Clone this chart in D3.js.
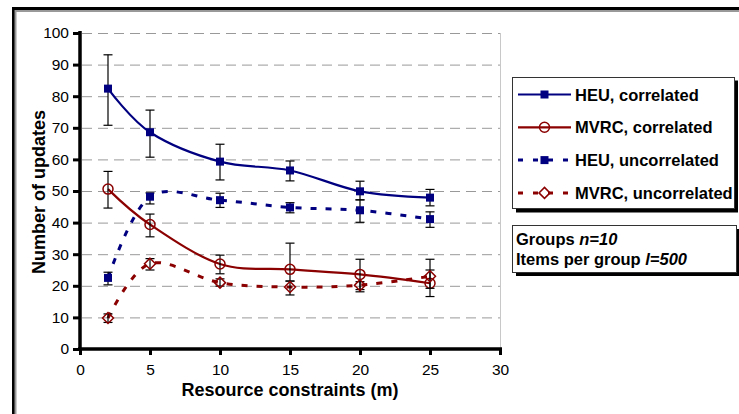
<!DOCTYPE html>
<html><head><meta charset="utf-8">
<script src="https://cdn.jsdelivr.net/npm/d3@7"></script>
<style>body{margin:0;background:#fff}svg{display:block}text{font-family:"Liberation Sans",Arial,sans-serif}</style>
</head><body>
<script>
const xValues = [2, 5, 10, 15, 20, 25];
const xTicks = [0, 5, 10, 15, 20, 25, 30];
const yTicks = [0, 10, 20, 30, 40, 50, 60, 70, 80, 90, 100];

const heuCorr = [82.4, 68.6, 59.3, 56.5, 49.9, 47.9];
const heuCorrLo = [70.8, 60.7, 53.5, 53.2, 47.2, 45.3];
const heuCorrHi = [93.1, 75.6, 64.8, 59.5, 53.1, 50.5];

const mvrcCorr = [50.6, 39.4, 26.9, 25.2, 23.6, 20.8];
const mvrcCorrLo = [44.6, 35.5, 23.8, 21.5, 18.1, 16.6];
const mvrcCorrHi = [56.2, 42.7, 29.7, 33.5, 28.4, 28.4];

const heuUnc = [22.5, 48.2, 47.1, 44.8, 43.9, 41.1];
const heuUncLo = [20.3, 45.9, 44.8, 43.1, 40.1, 38.5];
const heuUncHi = [24.3, 49.4, 49.3, 46.3, 47.2, 43.4];

const mvrcUnc = [9.8, 27.0, 21.0, 19.6, 20.2, 23.0];
const mvrcUncLo = [8.4, 25.0, 19.9, 17.1, 18.8, 19.2];
const mvrcUncHi = [11.1, 28.6, 22.2, 21.5, 21.3, 25.0];

const seriesNames = ["HEU, correlated", "MVRC, correlated", "HEU, uncorrelated", "MVRC, uncorrelated"];

const NAVY = "#000080", DRED = "#8b0000";
const series = [
  {name: seriesNames[0], v: heuCorr, lo: heuCorrLo, hi: heuCorrHi, color: NAVY, dash: null, marker: "square"},
  {name: seriesNames[1], v: mvrcCorr, lo: mvrcCorrLo, hi: mvrcCorrHi, color: DRED, dash: null, marker: "circle"},
  {name: seriesNames[2], v: heuUnc, lo: heuUncLo, hi: heuUncHi, color: NAVY, dash: "6,9", marker: "square"},
  {name: seriesNames[3], v: mvrcUnc, lo: mvrcUncLo, hi: mvrcUncHi, color: DRED, dash: "6,9", marker: "diamond"}
];

const W = 739, H = 414;
const svg = d3.select("body").append("svg").attr("width", W).attr("height", H);
svg.append("rect").attr("width", W).attr("height", H).attr("fill", "#fff");

// outer frame
svg.append("rect").attr("x", 13.5).attr("y", 8.5).attr("width", W).attr("height", H)
  .attr("fill", "none").attr("stroke", "#000").attr("stroke-width", 3);
svg.append("path").attr("d", `M15.5,${H} V11 H${W}`).attr("fill", "none").attr("stroke", "#999").attr("stroke-width", 2);

const x = d3.scaleLinear().domain([0, 30]).range([80, 500]);
const y = d3.scaleLinear().domain([0, 100]).range([349, 33]);

// gridlines
svg.append("g").selectAll("line").data(yTicks.filter(d => d > 0)).join("line")
  .attr("x1", x(0) + 2).attr("x2", x(30)).attr("y1", d => y(d) + 0.5).attr("y2", d => y(d) + 0.5)
  .attr("stroke", "#999").attr("stroke-width", 1).attr("stroke-dasharray", "10,6");
// plot area right border
svg.append("line").attr("x1", x(30) + 0.5).attr("x2", x(30) + 0.5).attr("y1", y(100)).attr("y2", y(0))
  .attr("stroke", "#c8c8c8").attr("stroke-width", 1);

// axes
const yAxis = svg.append("g").attr("transform", `translate(${x(0)},0)`)
  .call(d3.axisLeft(y).tickValues(yTicks).tickSize(7).tickSizeOuter(0).tickPadding(4));
const xAxis = svg.append("g").attr("transform", `translate(0,${y(0)})`)
  .call(d3.axisBottom(x).tickValues(xTicks).tickSize(6).tickSizeOuter(0).tickPadding(9));
[yAxis, xAxis].forEach(a => {
  a.attr("font-size", null).attr("font-family", null);
  a.select(".domain").attr("stroke", "#000").attr("stroke-width", 3.5);
  a.selectAll(".tick line").attr("stroke", "#000").attr("stroke-width", 3);
  a.selectAll(".tick text").attr("font-size", 15.5).attr("fill", "#000")
    .attr("font-family", '"Liberation Sans",Arial,sans-serif');
});
yAxis.select(".domain").attr("d", `M0,${y(0) + 2}V${y(100) - 2}`);
xAxis.select(".domain").attr("d", `M${x(0) - 2},0H${x(30) + 2}`);

// axis titles
svg.append("text").attr("x", 290).attr("y", 396).attr("text-anchor", "middle")
  .attr("font-size", 18).attr("font-weight", "bold").text("Resource constraints (m)");
svg.append("text").attr("transform", "translate(45,192) rotate(-90)").attr("text-anchor", "middle")
  .attr("font-size", 18).attr("font-weight", "bold").text("Number of updates");

function drawMarker(g, type, color, cx, cy) {
  if (type === "square") {
    g.append("rect").attr("x", cx - 4).attr("y", cy - 4).attr("width", 8).attr("height", 8).attr("fill", color);
  } else if (type === "circle") {
    g.append("circle").attr("cx", cx).attr("cy", cy).attr("r", 5).attr("fill", "none")
      .attr("stroke", color).attr("stroke-width", 1.5);
  } else {
    g.append("path").attr("d", `M${cx},${cy - 5.5}L${cx + 5.5},${cy}L${cx},${cy + 5.5}L${cx - 5.5},${cy}Z`)
      .attr("fill", "none").attr("stroke", color).attr("stroke-width", 1.5);
  }
}

const line = d3.line().x(d => x(d[0])).y(d => y(d[1])).curve(d3.curveCardinal.tension(0));

series.forEach(s => {
  const g = svg.append("g");
  const pts = xValues.map((xv, i) => [xv, s.v[i]]);
  g.append("path").attr("d", line(pts)).attr("fill", "none").attr("stroke", s.color)
    .attr("stroke-width", s.dash ? 3 : 2.2).attr("stroke-dasharray", s.dash);
  xValues.forEach((xv, i) => {
    const cx = x(xv);
    g.append("line").attr("x1", cx).attr("x2", cx).attr("y1", y(s.lo[i])).attr("y2", y(s.hi[i]))
      .attr("stroke", "#000").attr("stroke-width", 1.2);
    [s.lo[i], s.hi[i]].forEach(e => g.append("line").attr("x1", cx - 4.5).attr("x2", cx + 4.5)
      .attr("y1", y(e)).attr("y2", y(e)).attr("stroke", "#000").attr("stroke-width", 1.2));
  });
  xValues.forEach((xv, i) => drawMarker(g, s.marker, s.color, x(xv), y(s.v[i])));
});

// legend
const lg = svg.append("g");
lg.append("rect").attr("x", 516).attr("y", 80.5).attr("width", 222).attr("height", 132).attr("fill", "#000");
lg.append("rect").attr("x", 512.5).attr("y", 77.5).attr("width", 222).attr("height", 131)
  .attr("fill", "#fff").attr("stroke", "#333").attr("stroke-width", 1);
series.forEach((s, i) => {
  const cy = 94.5 + i * 32.8;
  lg.append("line").attr("x1", 518).attr("x2", 571).attr("y1", cy).attr("y2", cy)
    .attr("stroke", s.color).attr("stroke-width", s.dash ? 3 : 2.2)
    .attr("stroke-dasharray", s.dash ? "5,10" : null);
  drawMarker(lg, s.marker, s.color, 544.5, cy);
  lg.append("text").attr("x", 575).attr("y", cy + 6).attr("font-size", 16.5).attr("font-weight", "bold").text(s.name);
});

// info box
const ib = svg.append("g");
ib.append("rect").attr("x", 516).attr("y", 229).attr("width", 224).attr("height", 47).attr("fill", "#000");
ib.append("rect").attr("x", 512.5).attr("y", 225.5).attr("width", 224).attr("height", 47)
  .attr("fill", "#fff").attr("stroke", "#333").attr("stroke-width", 1);
const t1 = ib.append("text").attr("x", 516).attr("y", 245).attr("font-size", 16.5).attr("font-weight", "bold");
t1.append("tspan").text("Groups ");
t1.append("tspan").attr("font-style", "italic").text("n=10");
const t2 = ib.append("text").attr("x", 516).attr("y", 265).attr("font-size", 16.5).attr("font-weight", "bold");
t2.append("tspan").text("Items per group ");
t2.append("tspan").attr("font-style", "italic").text("l=500");
</script>
</body></html>
